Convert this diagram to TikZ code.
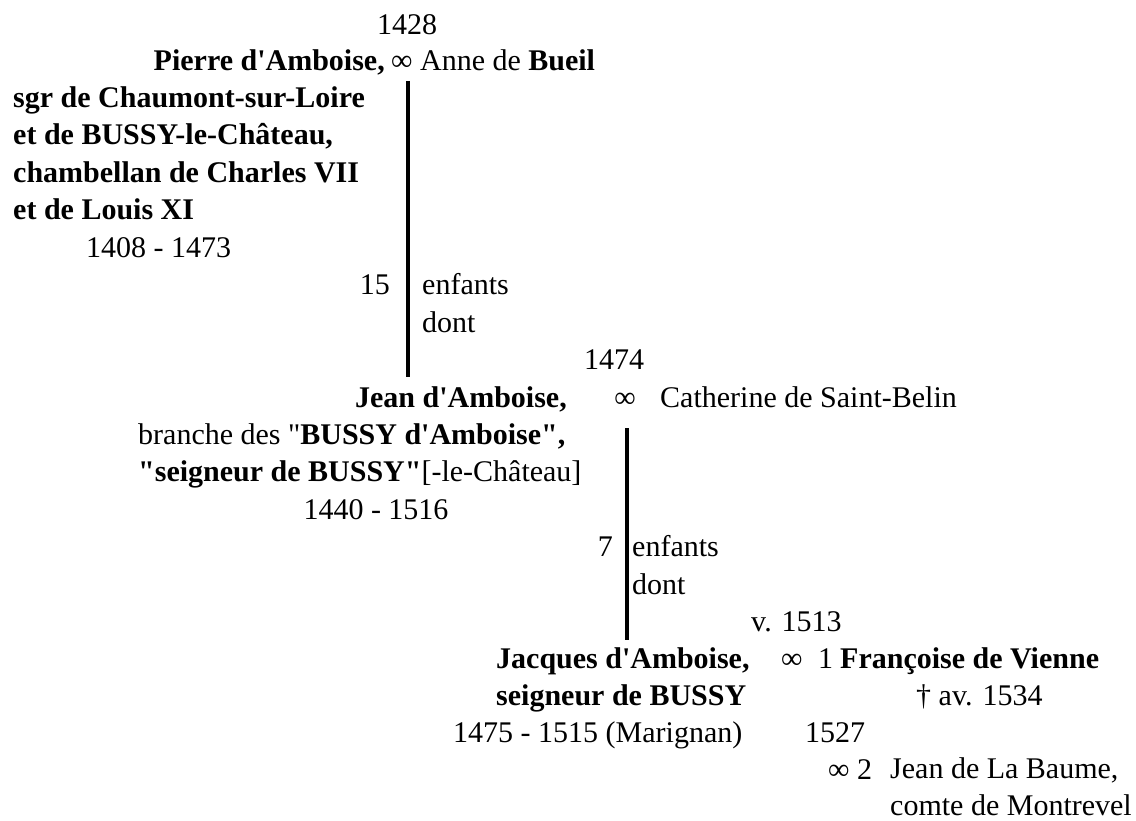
\documentclass[tikz,border=0pt]{standalone}
\usepackage{fontspec}
\setmainfont{Liberation Serif}[Ligatures=TeXOff]

\begin{document}
\begin{tikzpicture}[x=1pt,y=-1pt,txt/.style={inner sep=0pt,font=\fontsize{30}{37.4}\selectfont},tl/.style={txt,anchor=base west,align=left},tr/.style={txt,anchor=base east},tc/.style={txt,anchor=base},stem/.style={line width=3.5pt}]
            \useasboundingbox (0,0) rectangle (1136,821);

            % Pierre d'Amboise (multi-line nodes sit on their last line)
            \node[tc] (d1428) at (407,35) {1428};
            \node[tr] (pierre) at (385,71) {\textbf{Pierre d'Amboise,}};
            \node[tl] (anne) at (391,71) {∞ Anne de \textbf{Bueil}};
            \node[tl] (titre) at (13,219.5) {\textbf{sgr de Chaumont-sur-Loire}\\\textbf{et de BUSSY-le-Château,}\\\textbf{chambellan de Charles VII}\\\textbf{et de Louis XI}};
            \node[tl] (dpierre) at (86,257.4) {1408 - 1473};
            \node[tr] (n15) at (390,294.8) {15};
            \node[tl] (enf1) at (422,332.2) {enfants\\dont};
            \coordinate (s1a) at (408,81);
            \coordinate (s1b) at (408,377);

            % Jean d'Amboise
            \node[tc] (d1474) at (614,369.6) {1474};
            \node[tr] (jean) at (567,407) {\textbf{Jean d'Amboise,}};
            \node[tc] (m2) at (625,407) {∞};
            \node[tl] (cath) at (660,407) {Catherine de Saint-Belin};
            \node[tl] (branche) at (138,481.8) {branche des "\textbf{BUSSY d'Amboise",}\\\textbf{"seigneur de BUSSY"}[-le-Château]};
            \node[tc] (djean) at (376,519.2) {1440 - 1516};
            \node[tr] (n7) at (613,556.6) {7};
            \node[tl] (enf2) at (632,594) {enfants\\dont};
            \coordinate (s2a) at (627,428);
            \coordinate (s2b) at (627,640);

            % Jacques d'Amboise
            \node[tl] (v1513) at (751,631.4) {v. 1513};
            \node[tl] (jacques) at (496,705.5) {\textbf{Jacques d'Amboise,}\\\textbf{seigneur de BUSSY}};
            \node[tl] (m3) at (781,668.5) {∞};
            \node[tl] (n1) at (818,668.5) {1};
            \node[tl] (francoise) at (840,668.5) {\textbf{Françoise de Vienne}};
            \node[tl] (deces) at (916,705.5) {† av. 1534};
            \node[tl] (djacques) at (453,742) {1475 - 1515 (Marignan)};
            \node[tl] (d1527) at (805,742) {1527};
            \node[tl] (m4) at (828,779) {∞ 2};
            \node[tl] (baume) at (890,815.5) {Jean de La Baume,\\comte de Montrevel};

            \draw[stem] (s1a) -- (s1b);
            \draw[stem] (s2a) -- (s2b);
        \end{tikzpicture}
\end{document}
